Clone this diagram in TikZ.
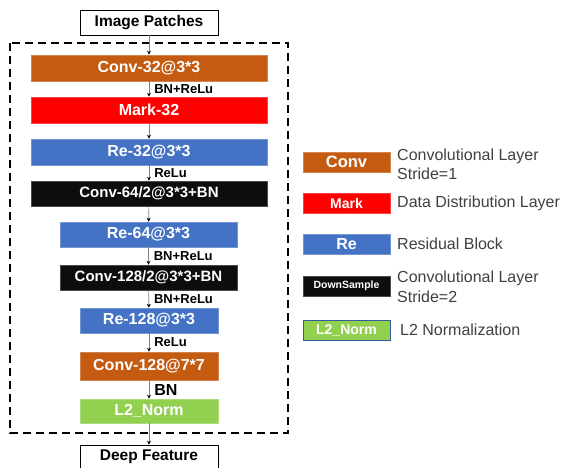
\documentclass[tikz,border=0pt]{standalone}
\usepackage{fontspec}
\setmainfont{Liberation Sans}
\usetikzlibrary{arrows.meta}

\definecolor{convorange}{HTML}{C55A11}
\definecolor{markred}{HTML}{FF0000}
\definecolor{resblue}{HTML}{4472C4}
\definecolor{downblack}{HTML}{0D0D0D}
\definecolor{normgreen}{HTML}{92D050}
\definecolor{legendgray}{HTML}{404040}

\begin{document}
\begin{tikzpicture}[x=1pt,y=-1pt,
	layer node/.style={fill=#1,draw=#1!75!white,line width=0.6pt,text=white,
		font=\bfseries\fontsize{16}{18}\selectfont,inner sep=0pt,minimum height=26pt},
	io node/.style={draw,line width=0.7pt,font=\bfseries\fontsize{15.5}{18}\selectfont,
		inner sep=0pt,minimum width=138pt,minimum height=25pt},
	key node/.style={fill=#1,draw=#1!75!white,line width=0.6pt,text=white,
		font=\bfseries\fontsize{14}{16}\selectfont,inner sep=0pt,
		minimum width=87pt,minimum height=20pt},
	key text/.style={anchor=west,align=left,text=legendgray,inner sep=0pt,
		font=\fontsize{16}{19.5}\selectfont},
	flow/.style={draw=gray,line width=0.6pt,-{Stealth[black,length=4pt,width=4pt]}},
	act/.style={right,inner sep=0pt,xshift=5pt,font=\bfseries\fontsize{13}{15}\selectfont}]
\useasboundingbox (0,0) rectangle (568,468);

% network body
\draw[line width=1.2pt,dash pattern=on 8pt off 5pt] (10,43) rectangle (288,433);

\node[io node] (patches) at (149,22.5) {Image Patches};
\node[layer node=convorange,minimum width=236pt] (conv1) at (149,68) {Conv-32@3*3};
\node[layer node=markred,minimum width=236pt] (mark) at (149,110) {Mark-32};
\node[layer node=resblue,minimum width=236pt] (res1) at (149,152) {Re-32@3*3};
\node[layer node=downblack,minimum width=236pt,minimum height=25pt,
	font=\bfseries\fontsize{15}{17}\selectfont] (down1) at (149,193.5) {Conv-64/2@3*3+BN};
\node[layer node=resblue,minimum width=177pt,minimum height=25pt] (res2) at (148.5,234.5) {Re-64@3*3};
\node[layer node=downblack,minimum width=177pt,minimum height=25pt,
	font=\bfseries\fontsize{15}{17}\selectfont] (down2) at (148.5,277.5) {Conv-128/2@3*3+BN};
\node[layer node=resblue,minimum width=138pt,minimum height=25pt] (res3) at (149,320.5) {Re-128@3*3};
\node[layer node=convorange,minimum width=138pt,minimum height=28pt] (conv2) at (149,366) {Conv-128@7*7};
\node[layer node=normgreen,minimum width=138pt,minimum height=24pt] (norm) at (149,411) {L2\_Norm};
\node[io node,minimum height=24pt] (feature) at (149,457) {Deep Feature};

\path[flow]
	(patches) edge (conv1)
	(conv1) edge node[act] {BN+ReLu} (mark)
	(mark) edge (res1)
	(res1) edge node[act] {ReLu} (down1)
	(down1) edge (res2)
	(res2) edge node[act] {BN+ReLu} (down2)
	(down2) edge node[act] {BN+ReLu} (res3)
	(res3) edge node[act] {ReLu} (conv2)
	(conv2) edge node[act,font=\bfseries\fontsize{16}{18}\selectfont] {BN} (norm)
	(norm) edge (feature);

% legend
\node[key node=convorange,font=\bfseries\fontsize{16.5}{18}\selectfont] (kconv) at (346.5,162) {Conv};
\node[key node=markred] (kmark) at (346.5,203) {Mark};
\node[key node=resblue,font=\bfseries\fontsize{16}{18}\selectfont] (kres) at (346.5,244) {Re};
\node[key node=downblack,font=\bfseries\fontsize{10.5}{12}\selectfont] (kdown) at (346.5,286) {DownSample};
\node[key node=normgreen,draw=resblue!80!black] (knorm) at (346.5,330) {L2\_Norm};

\node[key text] (tconv) at (397,164.5) {Convolutional Layer\\Stride=1};
\node[key text] (tmark) at (397,203) {Data Distribution Layer};
\node[key text] (tres) at (397,244) {Residual Block};
\node[key text] (tdown) at (397,287) {Convolutional Layer\\Stride=2};
\node[key text] (tnorm) at (400,330) {L2 Normalization};
\end{tikzpicture}
\end{document}
